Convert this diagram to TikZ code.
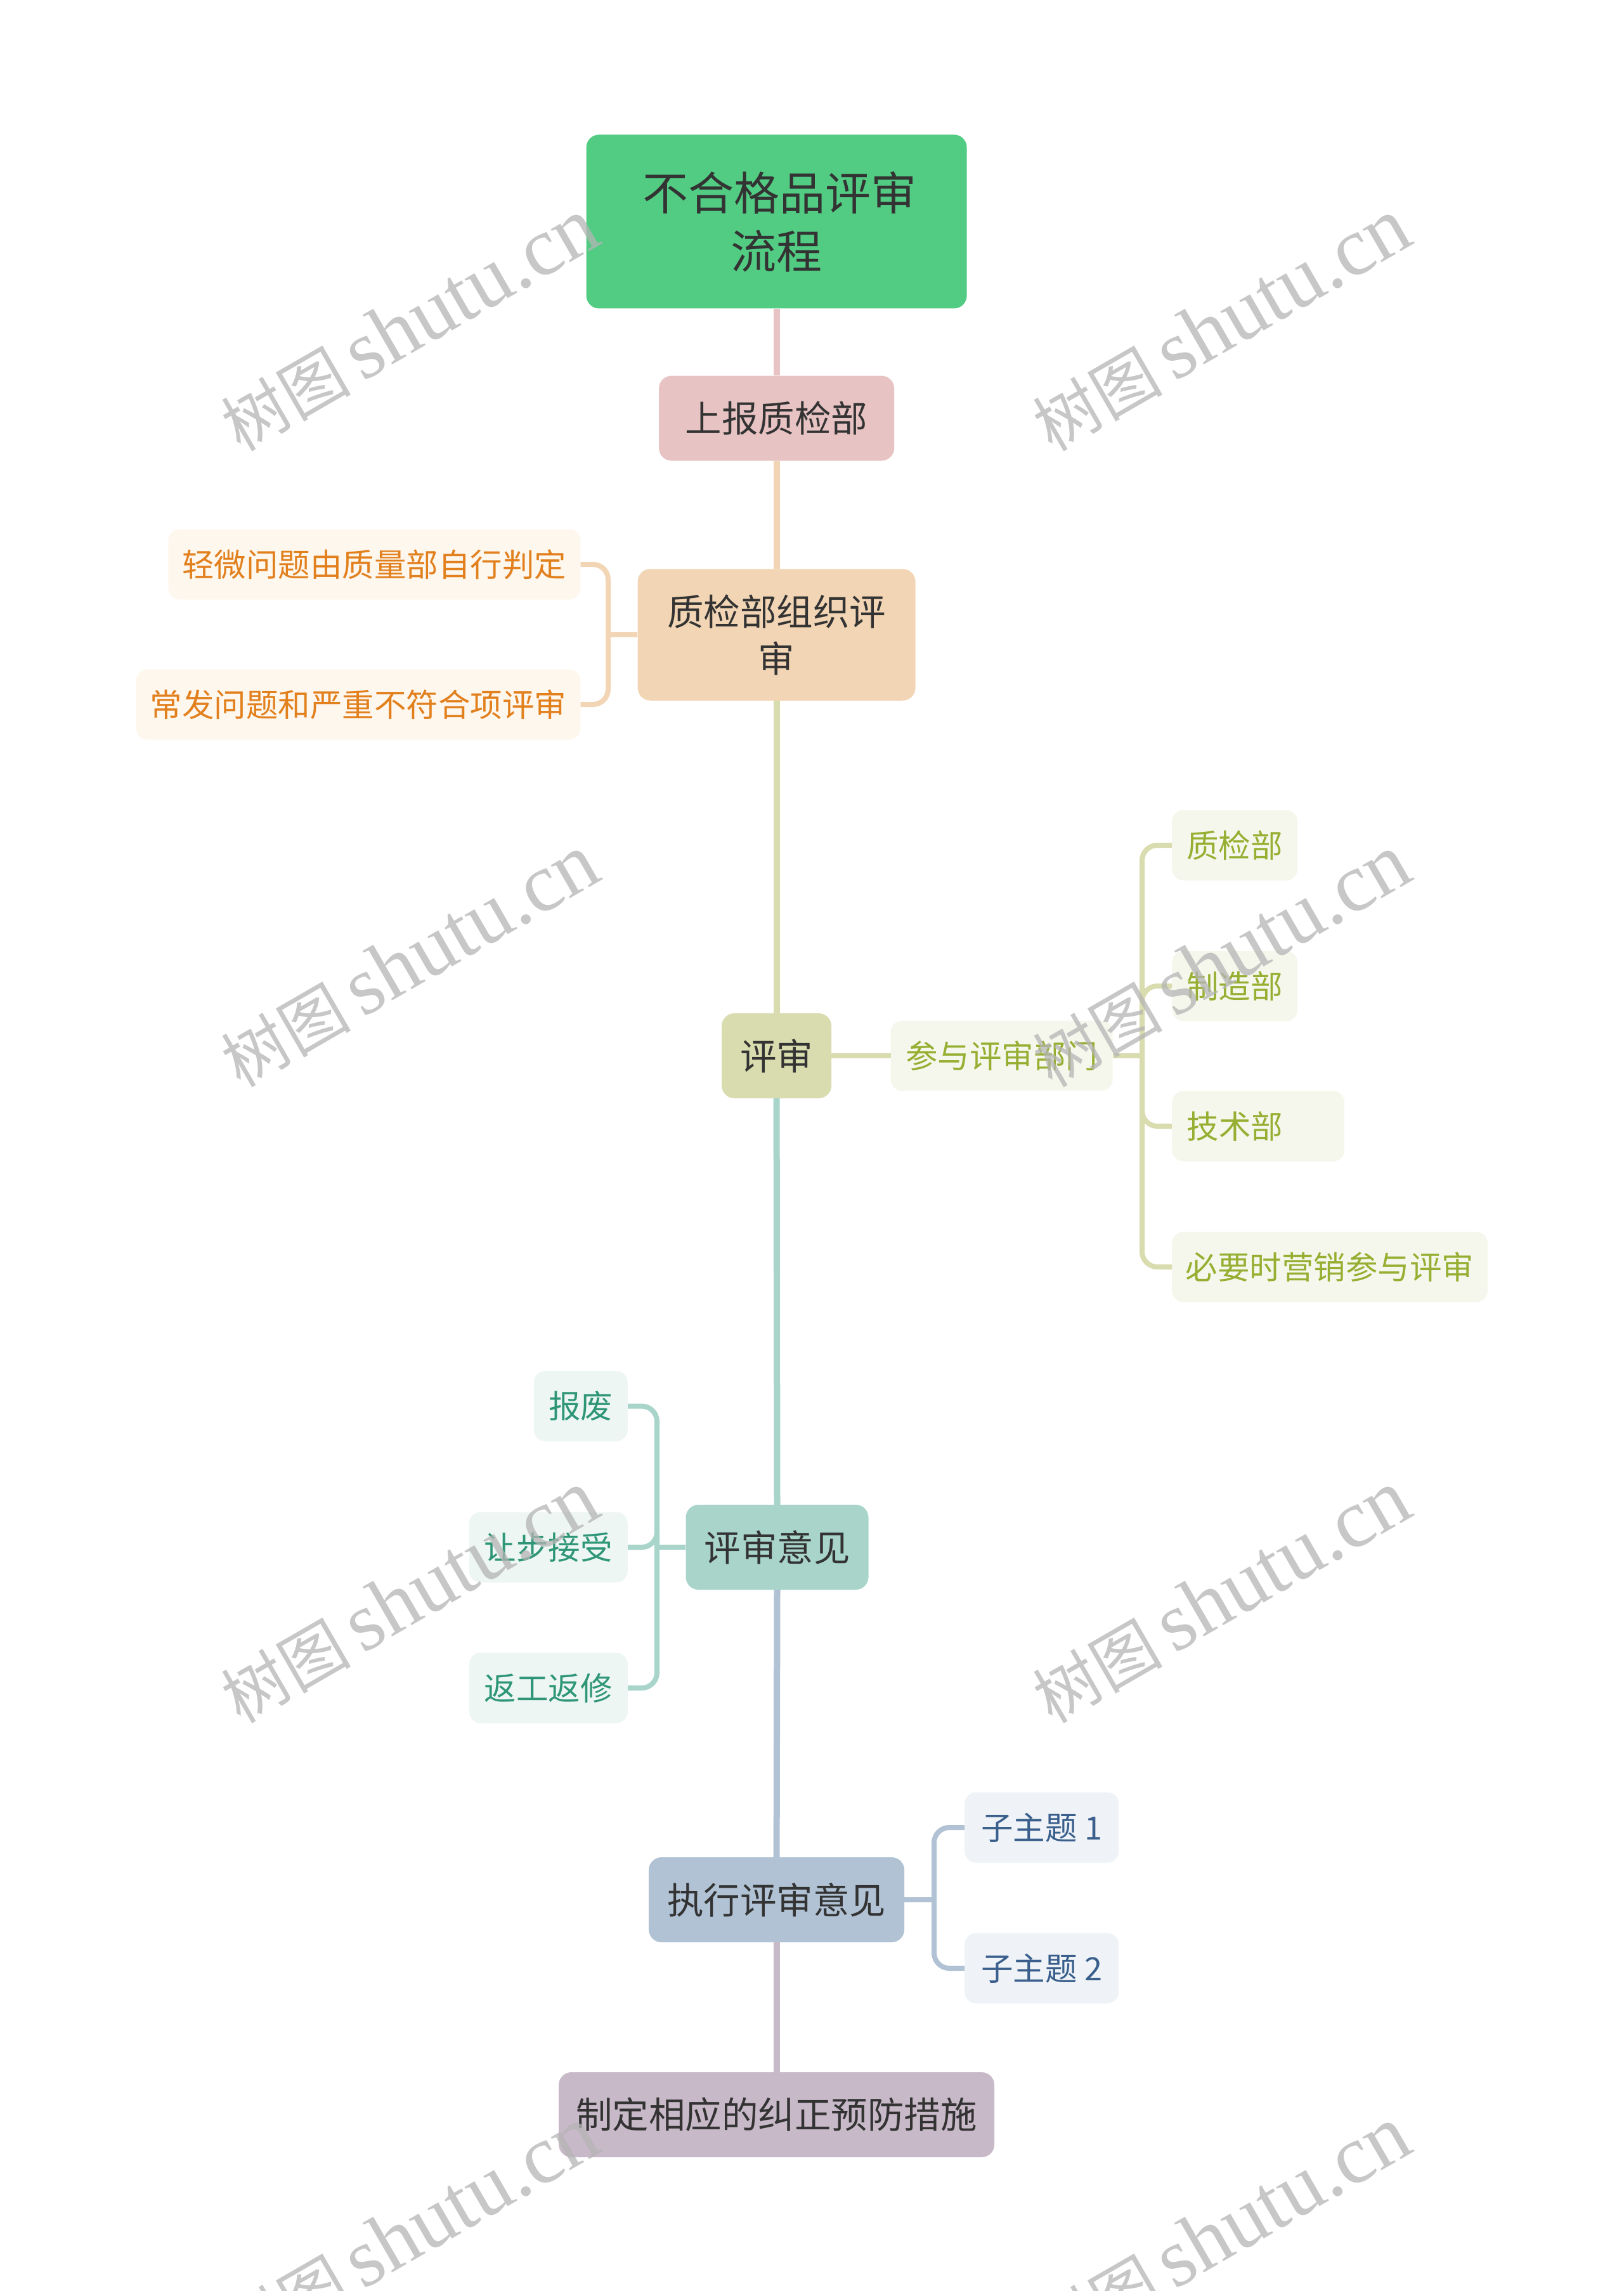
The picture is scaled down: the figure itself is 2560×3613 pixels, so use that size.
\documentclass[tikz,border=0pt]{standalone}
\usepackage{fontspec}
\setmainfont{Noto Sans CJK SC}
\newfontfamily\wmlat{Liberation Serif}
\definecolor{txt}{HTML}{333333}
\definecolor{cRoot}{HTML}{52CC83}
\definecolor{cA}{HTML}{E8C3C3}
\definecolor{cB}{HTML}{F2D5B4}
\definecolor{cC}{HTML}{D8DCAE}
\definecolor{cD}{HTML}{A8D4CA}
\definecolor{cE}{HTML}{B0C2D4}
\definecolor{cF}{HTML}{C8B9C8}
\definecolor{oFill}{HTML}{FEF7EE}
\definecolor{oText}{HTML}{E2801E}
\definecolor{gFill}{HTML}{F6F7EC}
\definecolor{gText}{HTML}{96AF32}
\definecolor{tFill}{HTML}{EEF6F4}
\definecolor{tText}{HTML}{2E9677}
\definecolor{bFill}{HTML}{EFF3F7}
\definecolor{bText}{HTML}{3A5F8C}
\definecolor{wmGray}{HTML}{B4B4B4}
\newcommand\fRoot{\fontsize{72}{92}\selectfont}
\newcommand\fMainTxt{\fontsize{57.5}{74}\selectfont}
\newcommand\fChild{\fontsize{50.5}{62}\selectfont}
\newcommand\fWmC{\fontsize{102}{102}\selectfont}
\newcommand\fWmL{\fontsize{131}{131}\selectfont}
\newcommand\wmtext{{\fWmC 树图}\hspace{18pt}{\fWmL\wmlat shutu.cn}}
\tikzset{
  mainbox/.style={rounded corners=20pt, inner sep=0pt, text=txt, align=center, font=\fMainTxt, minimum height=134pt},
  childbox/.style={rounded corners=18pt, inner sep=0pt, minimum height=111pt, font=\fChild},
  obox/.style={childbox, fill=oFill, text=oText, anchor=east},
  gbox/.style={childbox, fill=gFill, text=gText, anchor=west},
  tbox/.style={childbox, fill=tFill, text=tText, anchor=east},
  bbox/.style={childbox, fill=bFill, text=bText, anchor=west},
  trunk/.style={line width=10pt},
  brk/.style={line width=8pt, rounded corners=24pt},
  wm/.style={text=wmGray, text opacity=0.75, rotate=30, inner sep=0pt},
}
\begin{document}
\begin{tikzpicture}[x=1pt,y=-1pt]
\useasboundingbox (0,0) rectangle (2560,3613);
% trunk nodes
\node[mainbox, fill=cRoot, font=\fRoot, minimum width=600pt, minimum height=274pt] (root) at (1224.6,349.4) {\hspace*{10pt}不合格品评审\\流程};
\node[mainbox, fill=cA, minimum width=371pt] (r1) at (1224.6,659.6) {上报质检部};
\node[mainbox, fill=cB, minimum width=438pt, minimum height=207.5pt] (r2) at (1224.6,1001) {质检部组织评\\审};
\node[mainbox, fill=cC, minimum width=173pt] (r3) at (1224.6,1665) {评审};
\node[mainbox, fill=cD, minimum width=288pt] (r4) at (1225.5,2440) {评审意见};
\node[mainbox, fill=cE, minimum width=403pt] (r5) at (1224.6,2996) {执行评审意见};
\node[mainbox, fill=cF, minimum width=687pt] (r6) at (1224.6,3335) {制定相应的纠正预防措施};
% orange children
\node[obox, minimum width=650pt] (o1) at (915.6,890) {轻微问题由质量部自行判定};
\node[obox, minimum width=701pt] (o2) at (915.6,1111) {常发问题和严重不符合项评审};
% olive children
\node[gbox, minimum width=350pt, anchor=west] (p1) at (1404.5,1665) {参与评审部门};
\node[gbox, minimum width=198pt] (g1) at (1848,1333) {质检部};
\node[gbox, minimum width=198pt] (g2) at (1848,1555) {制造部};
\node[gbox, minimum width=272pt, text width=247pt, inner xsep=0pt, align=left] (g3) at (1848,1776) {\noindent\hspace*{11pt}技术部};
\node[gbox, minimum width=498pt] (g4) at (1848,1998) {必要时营销参与评审};
% teal children
\node[tbox, minimum width=148pt] (t1) at (990,2217.5) {报废};
\node[tbox, minimum width=250pt] (t2) at (990,2440) {让步接受};
\node[tbox, minimum width=250pt] (t3) at (990,2662) {返工返修};
% blue children
\node[bbox, minimum width=243pt] (b1) at (1521,2882) {子主题 1};
\node[bbox, minimum width=243pt] (b2) at (1521,3104) {子主题 2};
% junctions
\coordinate (j2) at (959,1001);
\coordinate (jp) at (1801,1665);
\coordinate (j4) at (1036,2440);
\coordinate (j5) at (1473,2996);
% trunk connectors
\draw[trunk, cA] (root.south) -- (r1.north);
\draw[trunk, cB] (r1.south) -- (r2.north);
\draw[trunk, cC] (r2.south) -- (r3.north);
\draw[trunk, cD] (r3.south) -- (r4.north);
\draw[trunk, cE] (r4.south) -- (r5.north);
\draw[trunk, cF] (r5.south) -- (r6.north);
% orange bracket
\draw[brk, cB] (r2.west) -- (j2);
\draw[brk, cB] (j2) |- (o1.east);
\draw[brk, cB] (j2) |- (o2.east);
% olive
\draw[brk, cC] (r3.east) -- (p1.west);
\draw[brk, cC] (p1.east) -- (jp);
\draw[brk, cC] (jp) |- (g1.west);
\draw[brk, cC] (jp) |- (g2.west);
\draw[brk, cC] (jp) |- (g3.west);
\draw[brk, cC] (jp) |- (g4.west);
% teal
\draw[brk, cD] (r4.west) -- (j4);
\draw[brk, cD] (j4) |- (t1.east);
\draw[brk, cD] (j4) |- (t2.east);
\draw[brk, cD] (j4) |- (t3.east);
% blue
\draw[brk, cE] (r5.east) -- (j5);
\draw[brk, cE] (j5) |- (b1.west);
\draw[brk, cE] (j5) |- (b2.west);
% watermarks
\node[wm] (w1) at (646,512) {\wmtext};
\node[wm] (w2) at (1926,512) {\wmtext};
\node[wm] (w3) at (646,1515) {\wmtext};
\node[wm] (w4) at (1926,1515) {\wmtext};
\node[wm] (w5) at (646,2518) {\wmtext};
\node[wm] (w6) at (1926,2518) {\wmtext};
\node[wm] (w7) at (646,3521) {\wmtext};
\node[wm] (w8) at (1926,3521) {\wmtext};
\end{tikzpicture}
\end{document}
